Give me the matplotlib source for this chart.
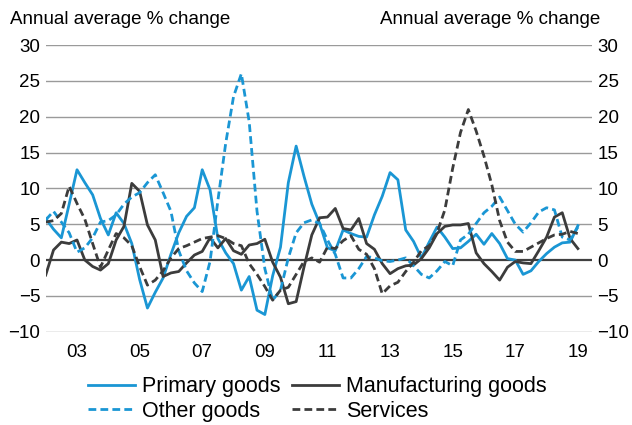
import matplotlib
matplotlib.use("Agg")
import matplotlib.pyplot as plt
import numpy as np

plt.rcParams['font.family'] = ['Liberation Sans', 'DejaVu Sans']

# quarterly, 2002Q1 .. 2019Q1
start_year = 2002
primary = [5.8, 4.3, 3.1, 7.8, 12.6, 10.8, 9.1, 5.8, 3.5, 6.6, 5.1, 2.3, -2.7, -6.7, -4.5, -2.5,
           0.8, 3.8, 6.1, 7.3, 12.6, 9.8, 3.0, 1.0, -0.5, -4.2, -2.3, -7.0, -7.6, -2.2, 1.8, 10.8,
           15.9, 11.7, 7.8, 5.1, 1.7, 1.3, 4.2, 3.7, 3.3, 3.2, 6.3, 8.9, 12.2, 11.2, 4.2, 2.6,
           0.3, 2.5, 4.6, 3.2, 1.6, 1.7, 2.6, 3.6, 2.2, 3.7, 2.3, 0.2, 0.0, -2.0, -1.5, -0.2,
           0.9, 1.8, 2.4, 2.5, 4.8]
manufacturing = [-2.1, 1.4, 2.5, 2.3, 2.8, 0.0, -0.9, -1.4, -0.5, 2.8, 4.7, 10.7, 9.6, 4.9, 2.8, -2.3,
                 -1.8, -1.6, -0.4, 0.7, 1.2, 3.1, 1.7, 3.0, 1.3, 0.8, 2.1, 2.3, 2.9, -0.3, -2.4, -6.1,
                 -5.8, -1.0, 3.5, 5.9, 6.0, 7.2, 4.4, 4.2, 5.8, 2.3, 1.5, -0.5, -1.9, -1.2, -0.8, -0.7,
                 0.2, 1.7, 3.7, 4.7, 4.9, 4.9, 5.1, 1.0, -0.5, -1.6, -2.8, -1.0, -0.2, -0.4, -0.5, 1.3,
                 3.2, 6.0, 6.6, 3.0, 1.6]
other = [5.6, 6.8, 5.3, 3.8, 1.1, 1.7, 3.1, 5.3, 5.5, 6.3, 7.8, 8.8, 9.4, 10.8, 11.9, 9.4,
         6.8, 1.3, -1.5, -3.2, -4.4, -0.2, 8.3, 16.3, 22.8, 26.0, 19.3, 6.8, -1.2, -5.6, -4.2, 0.3,
         3.8, 5.2, 5.6, 5.1, 2.8, 0.8, -2.5, -2.5, -1.2, 0.5, 0.3, -0.1, -0.2, 0.0, 0.3, -0.8,
         -2.0, -2.5, -1.5, -0.2, -0.8, 2.8, 3.6, 5.1, 6.6, 7.5, 8.8, 6.9, 5.0, 3.9, 5.2, 6.7,
         7.3, 7.0, 3.2, 2.8, 4.6]
services = [5.3, 5.5, 6.5, 10.3, 7.9, 5.7, 2.3, -1.0, 1.4, 3.7, 3.1, 2.0, -0.9, -3.5, -2.8, -1.5,
            0.3, 1.6, 2.0, 2.5, 3.0, 3.2, 3.4, 3.0, 2.3, 2.0, -0.5, -2.0, -3.7, -5.6, -4.2, -3.8,
            -2.0, -0.2, 0.3, -0.3, 1.8, 1.6, 2.7, 3.4, 1.5, 0.8, -1.2, -4.7, -3.6, -3.1, -1.6, -0.3,
            1.3, 2.0, 3.8, 7.0, 12.8, 17.8, 21.0, 18.0, 14.5, 10.5, 5.5, 2.5, 1.2, 1.2, 1.8, 2.4,
            3.0, 3.5, 3.6, 4.0, 3.7]

tick_years = [2003, 2005, 2007, 2009, 2011, 2013, 2015, 2017, 2019]
tick_labels = ['03', '05', '07', '09', '11', '13', '15', '17', '19']
yticks = [-10, -5, 0, 5, 10, 15, 20, 25, 30]

blue = '#1a96d4'
dark = '#3c3c3c'
dash = (0, (2.8, 1.5))

t = start_year + np.arange(len(primary)) / 4.0

fig = plt.figure(figsize=(6.32, 4.25), dpi=100)
ax = fig.add_axes([0.0723, 0.2195, 0.8644, 0.6745])

for y in yticks:
    if y == 0:
        ax.axhline(y, color='#404040', lw=1.6, zorder=1)
    else:
        ax.axhline(y, color='#9a9a9a', lw=1.0, zorder=1)

l1, = ax.plot(t, primary, color=blue, lw=2.0, label='Primary goods', zorder=3)
l2, = ax.plot(t, manufacturing, color=dark, lw=2.0, label='Manufacturing goods', zorder=3)
l3, = ax.plot(t, other, color=blue, lw=2.0, ls=dash, label='Other goods', zorder=3)
l4, = ax.plot(t, services, color=dark, lw=2.0, ls=dash, label='Services', zorder=3)

ax.set_xlim(2002, 2019.45)
ax.set_ylim(-10, 30)
ax.set_yticks(yticks)
ax.set_xticks(tick_years)
ax.set_xticklabels(tick_labels)
for s in ax.spines.values():
    s.set_visible(False)
ax.tick_params(axis='both', length=0, labelsize=13.5, colors='black')
ax.tick_params(axis='y', labelright=True, pad=4)
ax.tick_params(axis='x', pad=9)

fig.text(0.016, 0.955, 'Annual average % change', fontsize=13.5, ha='left', va='center')
fig.text(0.95, 0.955, 'Annual average % change', fontsize=13.5, ha='right', va='center')

# order so rows read: Primary | Manufacturing, Other | Services
ax.legend([l1, l3, l2, l4], ['Primary goods', 'Other goods', 'Manufacturing goods', 'Services'],
          loc='upper left', bbox_to_anchor=(0.0775, -0.155),
          ncol=2, frameon=False, fontsize=15.5, handlelength=2.2, handletextpad=0.33,
          columnspacing=0.5, labelspacing=0.16, borderaxespad=0, borderpad=0)

fig.savefig('out.png', dpi=100)
